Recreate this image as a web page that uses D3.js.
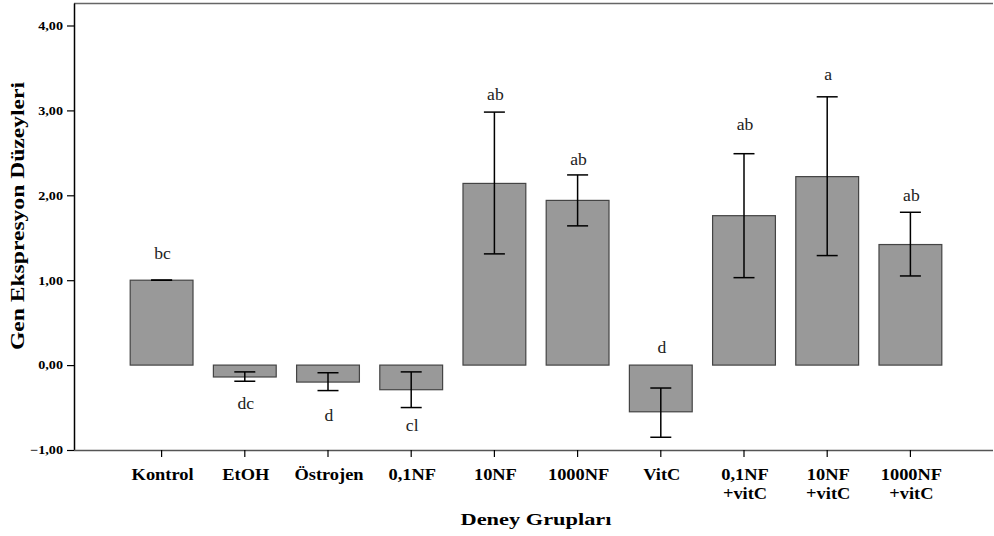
<!DOCTYPE html>
<html>
<head>
<meta charset="utf-8">
<script src="https://cdn.jsdelivr.net/npm/d3@7"></script>
<style>
  body { margin: 0; background: #fff; }
  svg text { font-family: "Liberation Serif", "Times New Roman", serif; }
</style>
</head>
<body>
<div id="chart"></div>
<script>
// groups (second line of the label after "|")
const groups = ["Kontrol", "EtOH", "Östrojen", "0,1NF", "10NF", "1000NF", "VitC",
  "0,1NF|+vitC", "10NF|+vitC", "1000NF|+vitC"];
const means = [1.00, -0.14, -0.20, -0.29, 2.14, 1.94, -0.55, 1.76, 2.22, 1.42];
const errHigh = [1.00, -0.08, -0.09, -0.08, 2.98, 2.24, -0.27, 2.49, 3.16, 1.80];
const errLow = [1.00, -0.19, -0.30, -0.50, 1.31, 1.64, -0.85, 1.03, 1.29, 1.05];
const letters = ["bc", "dc", "d", "cl", "ab", "ab", "d", "ab", "a", "ab"];
const letterAt = [1.31, -0.46, -0.60, -0.72, 3.18, 2.42, 0.20, 2.83, 3.42, 1.99];
const yTicks = [-1, 0, 1, 2, 3, 4];

const W = 994, H = 536;
const margin = { top: 3, right: 1, bottom: 86, left: 74 };
const width = W - margin.left - margin.right,
  height = H - margin.top - margin.bottom;

const svg = d3.select("#chart").append("svg")
  .attr("width", W).attr("height", H);
const g = svg.append("g")
  .attr("transform", "translate(" + margin.left + "," + margin.top + ")");

const x = d3.scaleBand().domain(groups)
  .range([46, 46 + 83.2 * 10]).paddingInner(0.245).paddingOuter(0.1225);
const y = d3.scaleLinear().domain([-1, 4.265]).range([height, 0]);

// top frame line
g.append("line").attr("x1", 0).attr("x2", width).attr("y1", 0.5).attr("y2", 0.5)
  .attr("stroke", "#666").attr("stroke-width", 1.5);

// bars
g.selectAll("rect.bar").data(groups).enter().append("rect")
  .attr("class", "bar")
  .attr("x", d => x(d))
  .attr("width", x.bandwidth())
  .attr("y", (d, i) => y(Math.max(0, means[i])))
  .attr("height", (d, i) => Math.abs(y(means[i]) - y(0)))
  .attr("fill", "#999999").attr("stroke", "#444").attr("stroke-width", 1.2);

// error bars
const eb = g.selectAll("g.err").data(groups).enter().append("g")
  .attr("transform", d => "translate(" + (x(d) + x.bandwidth() / 2) + ",0)");
eb.append("line").attr("x1", 0).attr("x2", 0)
  .attr("y1", (d, i) => y(errHigh[i])).attr("y2", (d, i) => y(errLow[i]))
  .attr("stroke", "#000").attr("stroke-width", 1.5);
eb.append("line").attr("x1", -10.5).attr("x2", 10.5)
  .attr("y1", (d, i) => y(errHigh[i])).attr("y2", (d, i) => y(errHigh[i]))
  .attr("stroke", "#000").attr("stroke-width", 1.5);
eb.append("line").attr("x1", -10.5).attr("x2", 10.5)
  .attr("y1", (d, i) => y(errLow[i])).attr("y2", (d, i) => y(errLow[i]))
  .attr("stroke", "#000").attr("stroke-width", 1.5);

// significance letters
g.selectAll("text.letter").data(groups).enter().append("text")
  .attr("transform", (d, i) => "translate(" + (x(d) + x.bandwidth() / 2 + 1) + "," +
    y(letterAt[i]) + ") scale(1.1,1)")
  .attr("dy", "0.32em")
  .attr("text-anchor", "middle")
  .style("font-size", "16px").attr("fill", "#222")
  .text((d, i) => letters[i]);

// Y axis
const yAxis = g.append("g")
  .call(d3.axisLeft(y).tickValues(yTicks).tickSize(7).tickSizeOuter(0)
    .tickFormat(d => d3.format(".2f")(d).replace(".", ",")));
yAxis.select(".domain").attr("stroke-width", 1.5);
yAxis.selectAll(".tick line").attr("stroke-width", 1.2);
yAxis.selectAll("text").style("font-size", "12px").style("font-weight", "bold")
  .attr("transform", "scale(1.18,1)")
  .attr("x", -11 / 1.18);

// X axis
const xAxis = g.append("g").attr("transform", "translate(0," + height + ")")
  .call(d3.axisBottom(x).tickSize(7).tickSizeOuter(0).tickFormat(""));
xAxis.select(".domain").attr("d", "M0,0.5H" + width).attr("stroke", "#555")
  .attr("stroke-width", 1.5);
xAxis.selectAll(".tick line").attr("stroke-width", 1.2);
xAxis.selectAll(".tick").each(function (d) {
  const parts = d.split("|");
  const t = d3.select(this).append("text")
    .attr("fill", "#000").attr("text-anchor", "middle")
    .attr("transform", "scale(1.15,1)")
    .style("font-size", "16px").style("font-weight", "bold");
  parts.forEach((p, k) => {
    t.append("tspan").attr("x", 1 / 1.15).attr("y", 30 + k * 19).text(p);
  });
});

// axis titles
svg.append("text")
  .attr("transform", "translate(24,216) rotate(-90)")
  .attr("text-anchor", "middle")
  .style("font-size", "19px").style("font-weight", "bold")
  .attr("textLength", 268).attr("lengthAdjust", "spacingAndGlyphs")
  .text("Gen Ekspresyon Düzeyleri");

svg.append("text")
  .attr("x", 536).attr("y", 525)
  .attr("text-anchor", "middle")
  .style("font-size", "16px").style("font-weight", "bold")
  .attr("textLength", 151).attr("lengthAdjust", "spacingAndGlyphs")
  .text("Deney Grupları");
</script>
</body>
</html>
